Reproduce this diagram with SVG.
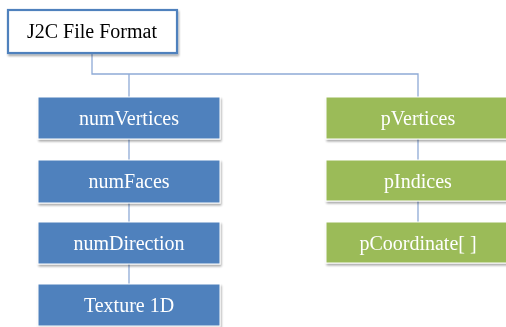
<svg xmlns="http://www.w3.org/2000/svg" width="506" height="327" viewBox="0 0 506 327">
  <defs>
    <filter id="shadow" x="-10%" y="-20%" width="120%" height="150%">
      <feGaussianBlur in="SourceAlpha" stdDeviation="1.2"/>
      <feOffset dx="1" dy="2" result="b"/>
      <feComponentTransfer><feFuncA type="linear" slope="0.35"/></feComponentTransfer>
      <feMerge><feMergeNode/><feMergeNode in="SourceGraphic"/></feMerge>
    </filter>
  </defs>
  <style>
    .bg { fill: #ffffff; }
    .link { fill: none; stroke: #8EAAD6; stroke-width: 1.3; }
    .root rect { fill: #ffffff; stroke: #4F81BD; stroke-width: 2.2; }
    .blue rect { fill: #4F81BD; stroke: #ffffff; stroke-width: 1; }
    .green rect { fill: #9BBB59; stroke: #ffffff; stroke-width: 1; }
    text { font-family: "Liberation Serif", "Times New Roman", serif; font-size: 20px; text-anchor: middle; }
    .root text { fill: #000000; }
    .blue text, .green text { fill: #ffffff; }
  </style>
  <rect class="bg" x="0" y="0" width="506" height="327"/>

  <g id="connectors">
    <path class="link" d="M92,53 V74 H418 V97"/>
    <path class="link" d="M129,74 V97"/>
    <path class="link" d="M129,139 V160"/>
    <path class="link" d="M129,203 V222"/>
    <path class="link" d="M129,264 V284"/>
    <path class="link" d="M418,139 V160"/>
    <path class="link" d="M418,201 V222"/>
  </g>

  <g id="root" class="root" filter="url(#shadow)">
    <rect x="8" y="10" width="169" height="43"/>
    <text x="92" y="38">J2C File Format</text>
  </g>

  <g id="numVertices" class="blue" filter="url(#shadow)">
    <rect x="38" y="97" width="182" height="42"/>
    <text x="129" y="125">numVertices</text>
  </g>
  <g id="numFaces" class="blue" filter="url(#shadow)">
    <rect x="38" y="160" width="182" height="43"/>
    <text x="129" y="188">numFaces</text>
  </g>
  <g id="numDirection" class="blue" filter="url(#shadow)">
    <rect x="38" y="222" width="182" height="42"/>
    <text x="129" y="250">numDirection</text>
  </g>
  <g id="texture1D" class="blue" filter="url(#shadow)">
    <rect x="38" y="284" width="182" height="42"/>
    <text x="129" y="312">Texture 1D</text>
  </g>

  <g id="pVertices" class="green" filter="url(#shadow)">
    <rect x="326" y="97" width="184" height="42"/>
    <text x="418" y="125">pVertices</text>
  </g>
  <g id="pIndices" class="green" filter="url(#shadow)">
    <rect x="326" y="160" width="184" height="41"/>
    <text x="418" y="188">pIndices</text>
  </g>
  <g id="pCoordinate" class="green" filter="url(#shadow)">
    <rect x="326" y="222" width="184" height="41"/>
    <text x="418" y="250">pCoordinate[ ]</text>
  </g>
</svg>
